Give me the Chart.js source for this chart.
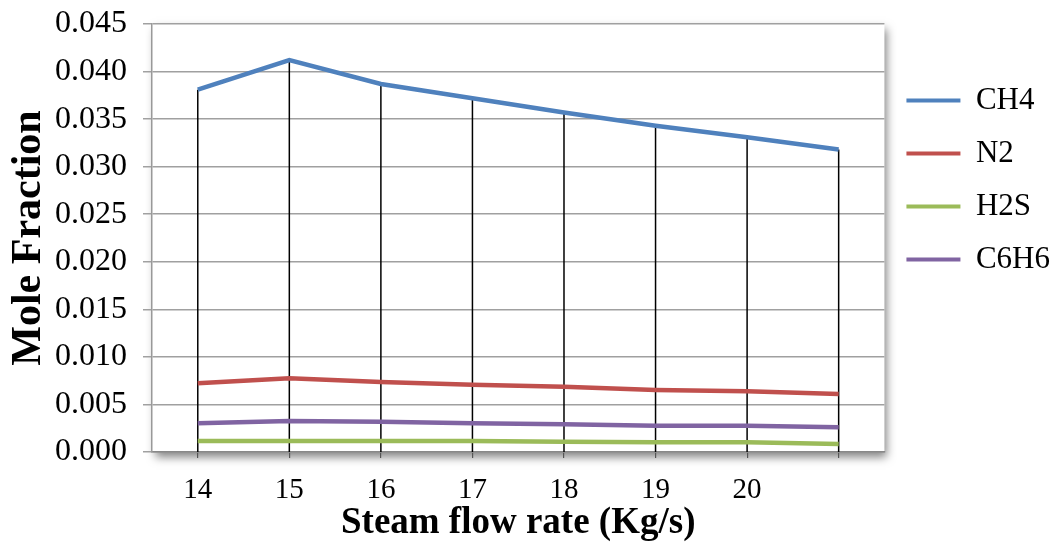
<!DOCTYPE html>
<html>
<head>
<meta charset="utf-8">
<script src="https://cdn.jsdelivr.net/npm/chart.js@4"></script>
<style>
  html, body { margin: 0; padding: 0; background: #fff; }
  #wrap { width: 1060px; height: 546px; }
</style>
</head>
<body>
<div id="wrap"><canvas id="moleChart" width="1060" height="546"></canvas></div>
<script>
// steam flow rate categories (last point has no label in the original)
const flowRates = ['14', '15', '16', '17', '18', '19', '20', ''];
const ch4  = [0.0381, 0.0412, 0.0387, 0.0372, 0.0357, 0.0343, 0.0331, 0.0318];
const n2   = [0.00722, 0.00775, 0.00736, 0.00708, 0.00687, 0.00652, 0.00638, 0.0061];
const h2s  = [0.00116, 0.00116, 0.00116, 0.00116, 0.00108, 0.00102, 0.00102, 0.00084];
const c6h6 = [0.00302, 0.00326, 0.00319, 0.00302, 0.00291, 0.00277, 0.00277, 0.0026];
const yTicks = [0, 0.005, 0.01, 0.015, 0.02, 0.025, 0.03, 0.035, 0.04, 0.045];

const serif = "'Liberation Serif', 'Times New Roman', serif";

// white plot area with the soft shadow on the right/bottom
const plotShadow = {
    id: 'plotShadow',
    beforeDraw(chart) {
        const { ctx, chartArea: a } = chart;
        ctx.save();
        ctx.shadowColor = 'rgba(0,0,0,0.5)';
        ctx.shadowBlur = 9;
        ctx.shadowOffsetX = 3;
        ctx.shadowOffsetY = 5;
        ctx.fillStyle = '#fff';
        ctx.fillRect(a.left, a.top, a.right - a.left, a.bottom - a.top);
        ctx.restore();
    }
};

// drop lines from the highest point of each category down to the axis
const dropLines = {
    id: 'dropLines',
    beforeDatasetsDraw(chart) {
        const { ctx, chartArea: a, scales } = chart;
        ctx.save();
        ctx.strokeStyle = '#000';
        ctx.lineWidth = 1.5;
        flowRates.forEach((c, i) => {
            const top = Math.max(...chart.data.datasets.map(d => d.data[i]));
            const x = scales.x.getPixelForValue(i);
            ctx.beginPath();
            ctx.moveTo(x, scales.y.getPixelForValue(top));
            ctx.lineTo(x, a.bottom);
            ctx.stroke();
        });
        ctx.restore();
    }
};

function line(label, data, color) {
    return {
        label: label,
        data: data,
        borderColor: color,
        backgroundColor: color,
        borderWidth: 4.5,
        pointRadius: 0,
        tension: 0,
        fill: false
    };
}

new Chart(document.getElementById('moleChart').getContext('2d'), {
    type: 'line',
    data: {
        labels: flowRates,
        datasets: [
            line('CH4', ch4, '#4F81BD'),
            line('N2', n2, '#C0504D'),
            line('H2S', h2s, '#9BBB59'),
            line('C6H6', c6h6, '#8064A2')
        ]
    },
    options: {
        responsive: false,
        animation: false,
        layout: { padding: { top: 24, right: 0, left: 0, bottom: 0 } },
        plugins: {
            tooltip: { enabled: false },
            legend: {
                position: 'right',
                align: 'start',
                title: { display: true, text: ' ', padding: { top: 27, bottom: 0 }, font: { size: 10 } },
                labels: {
                    boxWidth: 54,
                    boxHeight: 4,
                    padding: 22,
                    color: '#000',
                    font: { family: serif, size: 31 },
                    generateLabels(chart) {
                        return chart.data.datasets.map((d, i) => ({
                            text: d.label,
                            fillStyle: d.borderColor,
                            strokeStyle: d.borderColor,
                            fontColor: '#000',
                            lineWidth: 0,
                            datasetIndex: i
                        }));
                    }
                }
            }
        },
        scales: {
            x: {
                offset: true,
                grid: { offset: false, drawOnChartArea: false, drawTicks: true, tickLength: 6, color: '#555', lineWidth: 1.2 },
                border: { color: '#888', width: 1.5 },
                ticks: { color: '#000', padding: 15, maxRotation: 0, autoSkip: false, font: { family: serif, size: 29 } },
                title: { display: true, text: 'Steam flow rate (Kg/s)', color: '#000', padding: { top: 0, bottom: 0 }, font: { family: serif, size: 37, weight: 'bold' } },
                afterFit(scale) { scale.height = 94; }
            },
            y: {
                min: 0,
                max: 0.045,
                afterBuildTicks(scale) { scale.ticks = yTicks.map(v => ({ value: v })); },
                grid: { color: '#a0a0a0', lineWidth: 1.5, tickLength: 9 },
                border: { color: '#999', width: 1.5 },
                ticks: { color: '#000', padding: 16, callback: v => v.toFixed(3), font: { family: serif, size: 32 } },
                title: { display: true, text: 'Mole Fraction', color: '#000', padding: { bottom: 0 }, font: { family: serif, size: 42, weight: 'bold' } },
                afterFit(scale) {
                    scale.width = 152;
                    scale.paddingTop = 10;
                    scale.paddingBottom = 10;
                }
            }
        }
    },
    plugins: [plotShadow, dropLines]
});
</script>
</body>
</html>
